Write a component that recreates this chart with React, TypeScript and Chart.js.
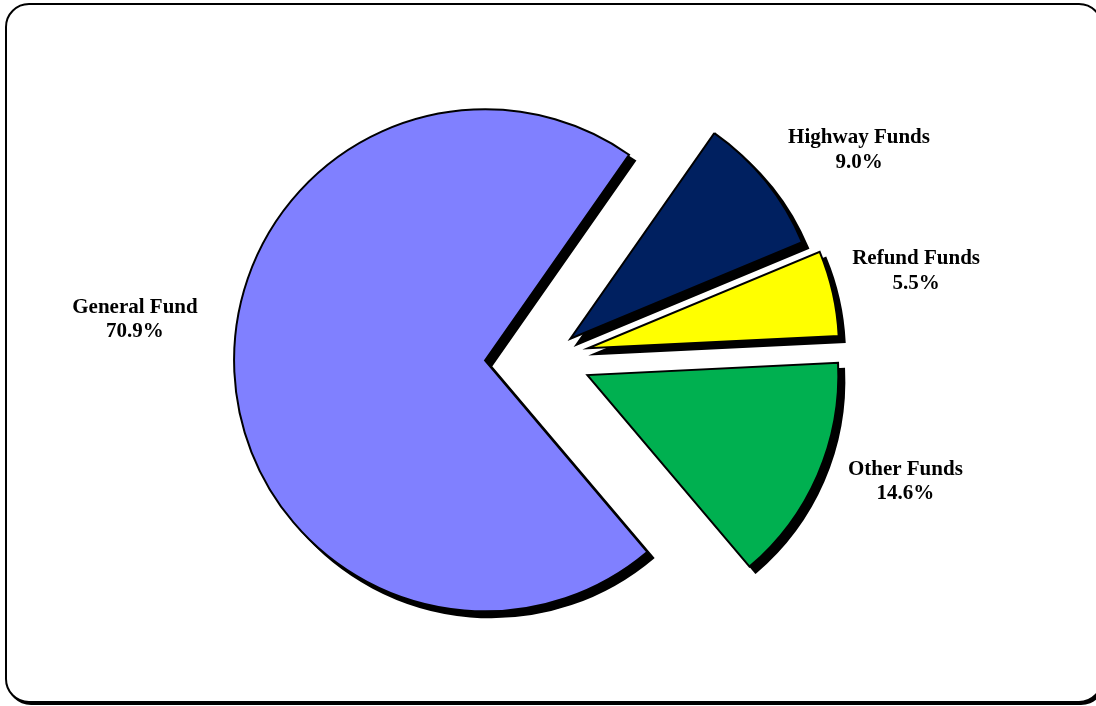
import React, { useEffect, useRef } from "react";
import { Chart, registerables } from "chart.js";

Chart.register(...registerables);

// ---- data ----
const categories = ["General Fund", "Highway Funds", "Refund Funds", "Other Funds"];
const shares = [70.9, 9.0, 5.5, 14.6];
const percentLabels = ["70.9%", "9.0%", "5.5%", "14.6%"];

// ---- styles / layout ----
const sliceColors = ["#8080FF", "#002060", "#FFFF00", "#00B050"];
const sliceExplode = [62, 30, 42, 44]; // px each slice is pulled out along its bisector
const labelAngleNudge = [8.4, 6.4, 0.4, -4.1]; // degrees, clockwise
const labelDistance = [1.402, 1.362, 1.338, 1.343]; // x radius, from slice vertex
const PIE_RADIUS = 251;
const START_ROTATION = 139.76;
const SHADOW = 6;
const LABEL_FONT = "bold 21px 'Liberation Serif', 'Times New Roman', serif";
const LINE_GAP = 24.5;

const explodedPiePlugin = {
  id: "explodedPie",
  beforeDatasetsDraw(chart: any) {
    const ctx: CanvasRenderingContext2D = chart.ctx;
    const meta = chart.getDatasetMeta(0);
    const arcs = meta.data as any[];

    // drop shadows
    arcs.forEach((el, i) => {
      const { x, y, startAngle, endAngle, outerRadius } = el.getProps(
        ["x", "y", "startAngle", "endAngle", "outerRadius"],
        true
      );
      const mid = (startAngle + endAngle) / 2;
      ctx.save();
      ctx.translate(
        Math.cos(mid) * sliceExplode[i] + SHADOW,
        Math.sin(mid) * sliceExplode[i] + SHADOW
      );
      ctx.beginPath();
      ctx.moveTo(x, y);
      ctx.arc(x, y, outerRadius, startAngle, endAngle);
      ctx.closePath();
      ctx.fillStyle = "#000";
      ctx.fill();
      ctx.lineWidth = 2;
      ctx.lineJoin = "miter";
      ctx.strokeStyle = "#000";
      ctx.stroke();
      ctx.restore();
    });

    // slices
    arcs.forEach((el, i) => {
      const { startAngle, endAngle } = el.getProps(["startAngle", "endAngle"], true);
      const mid = (startAngle + endAngle) / 2;
      ctx.save();
      ctx.translate(Math.cos(mid) * sliceExplode[i], Math.sin(mid) * sliceExplode[i]);
      el.draw(ctx);
      ctx.restore();
    });

    // labels
    ctx.save();
    ctx.font = LABEL_FONT;
    ctx.fillStyle = "#000";
    ctx.textAlign = "center";
    ctx.textBaseline = "alphabetic";
    arcs.forEach((el, i) => {
      const { x, y, startAngle, endAngle, outerRadius } = el.getProps(
        ["x", "y", "startAngle", "endAngle", "outerRadius"],
        true
      );
      const mid = (startAngle + endAngle) / 2;
      const vx = x + Math.cos(mid) * sliceExplode[i];
      const vy = y + Math.sin(mid) * sliceExplode[i];
      const a = mid + (labelAngleNudge[i] * Math.PI) / 180;
      const d = labelDistance[i] * outerRadius;
      const lx = vx + Math.cos(a) * d;
      const ly = vy + Math.sin(a) * d;
      ctx.fillText(categories[i], lx, ly - LINE_GAP / 2);
      ctx.fillText(percentLabels[i], lx, ly + LINE_GAP / 2);
    });
    ctx.restore();

    return false;
  },
};

export default function App() {
  const canvasRef = useRef<HTMLCanvasElement | null>(null);

  useEffect(() => {
    if (!canvasRef.current) return;
    const chart = new Chart(canvasRef.current, {
      type: "pie",
      data: {
        labels: categories,
        datasets: [
          {
            data: shares,
            backgroundColor: sliceColors,
            borderColor: "#000",
            borderWidth: 2,
            borderJoinStyle: "miter",
            offset: 0,
            hoverOffset: 0,
            radius: PIE_RADIUS,
          } as any,
        ],
      },
      options: {
        responsive: false,
        animation: false,
        events: [],
        rotation: START_ROTATION,
        layout: { padding: { left: 0, right: 2, top: 9, bottom: 0 } },
        plugins: {
          legend: { display: false },
          tooltip: { enabled: false },
          title: { display: false },
        },
      } as any,
      plugins: [explodedPiePlugin],
    });
    return () => chart.destroy();
  }, []);

  return (
    <div
      style={{
        position: "fixed",
        left: 0,
        top: 0,
        width: 1096,
        height: 706,
        overflow: "hidden",
        background: "#fff",
      }}
    >
      <div
        style={{
          position: "absolute",
          left: 5,
          top: 3,
          width: 1098,
          height: 700,
          boxSizing: "border-box",
          border: "2.5px solid #000",
          borderRadius: 24,
          boxShadow: "2px 2px 0 #000",
          background: "#fff",
        }}
      />
      <canvas
        ref={canvasRef}
        width={1096}
        height={706}
        style={{ position: "absolute", left: 0, top: 0, width: 1096, height: 706 }}
      />
    </div>
  );
}
